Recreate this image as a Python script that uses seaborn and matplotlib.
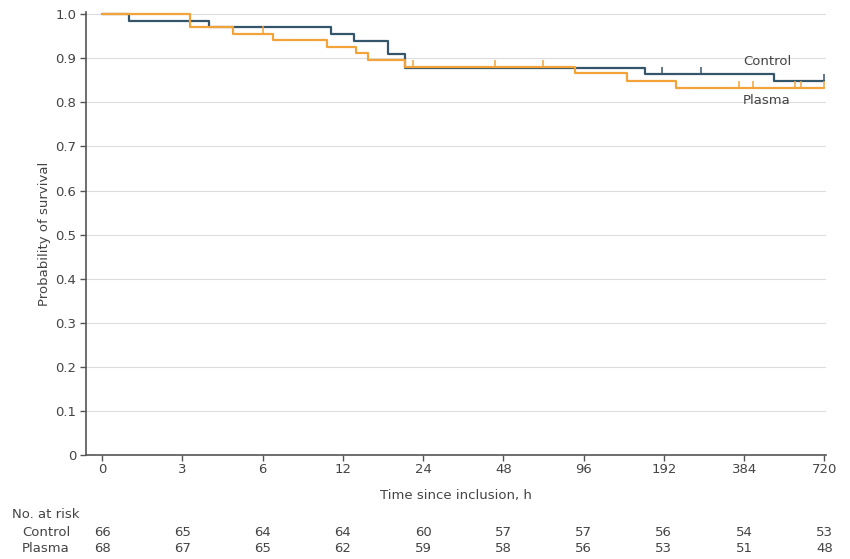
import numpy as np
import pandas as pd
import matplotlib
matplotlib.use("Agg")
import matplotlib.pyplot as plt
import matplotlib.transforms as mtransforms
from matplotlib.path import Path
import seaborn as sns

# ---- data ----
tick_hours = [0, 3, 6, 12, 24, 48, 96, 192, 384, 720]
tick_labels = ["0", "3", "6", "12", "24", "48", "96", "192", "384", "720"]

control_times = [0, 1.0, 4.0, 11.1, 13.6, 18.8, 21.3, 170, 507, 717]
control_surv = [1.0, 0.985, 0.970, 0.955, 0.939, 0.909, 0.879, 0.864, 0.848, 0.848]
control_cens_t = [190, 280, 718]
control_cens_s = [0.864, 0.864, 0.848]

plasma_times = [0, 3.3, 4.9, 6.8, 10.8, 13.9, 15.8, 21.3, 91, 148, 220, 717]
plasma_surv = [1.0, 0.971, 0.956, 0.941, 0.926, 0.912, 0.895, 0.880, 0.866, 0.848, 0.832, 0.832]
plasma_cens_t = [6.04, 22.5, 45.6, 72, 371, 423, 599, 620, 718]
plasma_cens_s = [0.956, 0.880, 0.880, 0.880, 0.832, 0.832, 0.832, 0.832, 0.832]

risk_control = [66, 65, 64, 64, 60, 57, 57, 56, 54, 53]
risk_plasma = [68, 67, 65, 62, 59, 58, 56, 53, 51, 48]

groups = ["Control", "Plasma"]
colors = {"Control": "#35556a", "Plasma": "#f2a33a"}

# axis mapping: evenly spaced ticks (piecewise)
def pos(t):
    return np.interp(np.asarray(t, dtype=float), tick_hours, np.arange(len(tick_hours)))

curves = pd.concat([
    pd.DataFrame({"x": pos(control_times), "s": control_surv, "g": "Control"}),
    pd.DataFrame({"x": pos(plasma_times), "s": plasma_surv, "g": "Plasma"}),
])
cens = pd.concat([
    pd.DataFrame({"x": pos(control_cens_t), "s": control_cens_s, "g": "Control"}),
    pd.DataFrame({"x": pos(plasma_cens_t), "s": plasma_cens_s, "g": "Plasma"}),
])

# upward censor tick marker
up_tick = Path([(0, 0), (0, 1)], [Path.MOVETO, Path.LINETO])

sns.set_theme(style="white")
plt.rcParams["font.family"] = ["DejaVu Sans"]
text_color = "#444444"

fig = plt.figure(figsize=(8.5, 5.59), dpi=100)
ax = fig.add_axes([86 / 850, 1 - 455 / 559, (826 - 86) / 850, (455 - 12) / 559])

for g in groups:
    sub = curves[curves.g == g]
    sns.lineplot(data=sub, x="x", y="s", color=colors[g], drawstyle="steps-post",
                 estimator=None, sort=False, lw=1.6, ax=ax, legend=False)
    csub = cens[cens.g == g]
    sns.scatterplot(data=csub, x="x", y="s", color=colors[g], edgecolor=colors[g],
                    facecolor="none", marker=up_tick, s=110,
                    linewidth=1.1, ax=ax, legend=False, zorder=3)

ax.set_xlim(-0.2, 9.02)
ax.set_ylim(0, 1.005)
ax.set_yticks(np.arange(0, 1.01, 0.1))
ax.set_yticklabels(["0"] + [f"{v:.1f}" for v in np.arange(0.1, 1.01, 0.1)])
ax.set_xticks(np.arange(len(tick_hours)))
ax.set_xticklabels(tick_labels)
ax.yaxis.grid(True, color="#dddddd", lw=0.8)
ax.set_axisbelow(True)
for sp in ["top", "right"]:
    ax.spines[sp].set_visible(False)
for sp in ["left", "bottom"]:
    ax.spines[sp].set_color("#555555")
    ax.spines[sp].set_linewidth(1.2)
ax.tick_params(axis="both", direction="out", length=4, width=1, color="#555555",
               labelsize=9.5, labelcolor=text_color, pad=3, bottom=True, left=True)
ax.tick_params(axis="x", pad=2)
ax.set_xlabel("Time since inclusion, h", fontsize=9.5, color=text_color, labelpad=9)
ax.set_ylabel("Probability of survival", fontsize=9.5, color=text_color, labelpad=3)

ax.text(pos(480), 0.893, "Control", fontsize=9.5, color=text_color, ha="center", va="center")
ax.text(pos(480), 0.805, "Plasma", fontsize=9.5, color=text_color, ha="center", va="center")

# number at risk table
trans = mtransforms.blended_transform_factory(ax.transData, fig.transFigure)
fig.text(12 / 850, 1 - 515 / 559, "No. at risk", fontsize=9.5, color=text_color, va="center")
fig.text(22 / 850, 1 - 532 / 559, "Control", fontsize=9.5, color=text_color, va="center")
fig.text(22 / 850, 1 - 549 / 559, "Plasma", fontsize=9.5, color=text_color, va="center")
for i, (c, p) in enumerate(zip(risk_control, risk_plasma)):
    ax.text(i, 1 - 532 / 559, str(c), transform=trans, fontsize=9.5, color=text_color,
            ha="center", va="center")
    ax.text(i, 1 - 549 / 559, str(p), transform=trans, fontsize=9.5, color=text_color,
            ha="center", va="center")

fig.savefig("out.png", dpi=100)
